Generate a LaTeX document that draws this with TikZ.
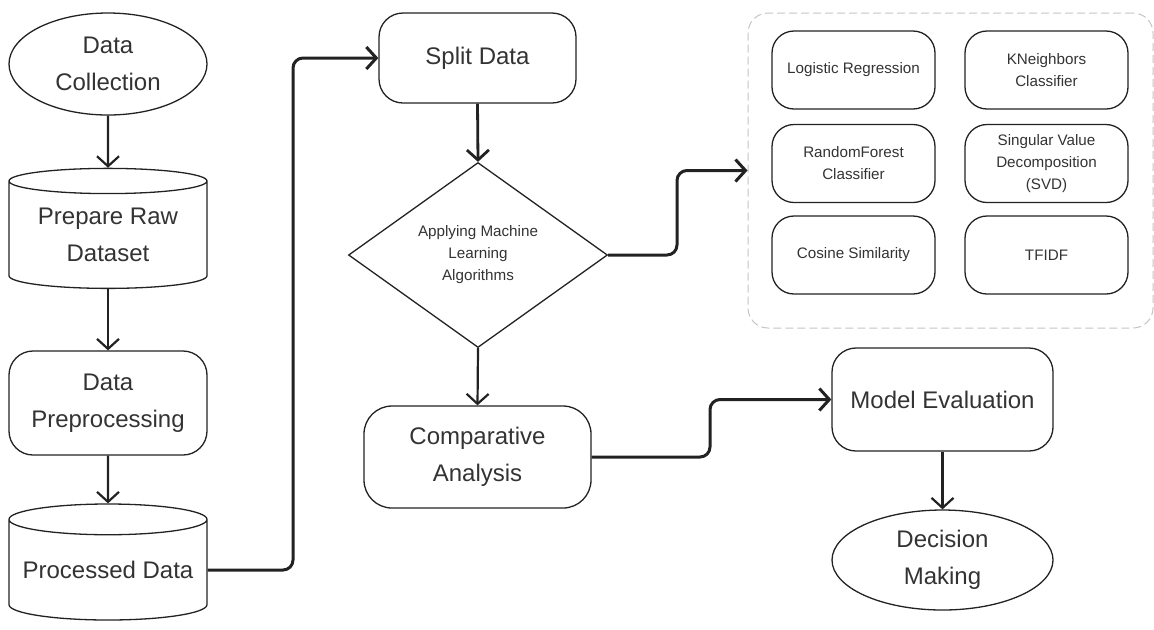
\documentclass[tikz,border=0pt]{standalone}
\usepackage{fontspec}
\setmainfont{Liberation Sans}
\usetikzlibrary{positioning}
\usetikzlibrary{shapes.geometric}
\usetikzlibrary{arrows.meta}
\definecolor{inkgray}{HTML}{333333}
\definecolor{linegray}{HTML}{222222}
\definecolor{dashgray}{HTML}{C4C4C4}

\begin{document}
\begin{tikzpicture}[x = 0.5pt, y = -0.5pt,
	box/.style = {draw = linegray, line width = 0.65pt, text = inkgray, align = center, inner sep = 0pt, font = \fontsize{12}{18.5}\selectfont},
	roundbox/.style = {box, rectangle, rounded corners = 12pt},
	oval/.style = {box, ellipse},
	drum/.style = {box, cylinder, shape border rotate = 90, aspect = 0.18},
	algo/.style = {box, rectangle, rounded corners = 11pt, minimum width = 81.5pt, minimum height = 39pt, font = \fontsize{7.6}{11}\selectfont},
	link/.style = {draw = linegray, line width = 1.1pt, -{Straight Barb[length = 5pt, width = 11pt]}},
	route/.style = {link, line width = 1.5pt, rounded corners = 5pt}]
	\useasboundingbox (0, 0) rectangle (1154, 629);
	\node [oval, minimum width = 99pt, minimum height = 51pt] (collect) at (108, 64) {Data\\Collection};
	\node [drum, minimum width = 99pt, minimum height = 60pt] (raw) at (108, 235) {Prepare Raw\\Dataset};
	\node [roundbox, minimum width = 99pt, minimum height = 52pt] (prep) at (108, 403) {Data\\Preprocessing};
	\node [drum, minimum width = 99pt, minimum height = 58pt] (processed) at (108, 570) {Processed Data};
	\node [roundbox, minimum width = 98.5pt, minimum height = 45pt] (split) at (477.5, 58) {Split Data};
	\node [box, diamond, minimum width = 129.5pt, minimum height = 92.5pt, font = \fontsize{7.6}{11}\selectfont] (apply) at (478, 255) {Applying Machine\\Learning\\Algorithms};
	\node [roundbox, rounded corners = 14pt, minimum width = 113.5pt, minimum height = 51pt] (compare) at (477.5, 457) {Comparative\\Analysis};
	\node [roundbox, minimum width = 110.5pt, minimum height = 51.5pt] (evaluate) at (942.5, 399.5) {Model Evaluation};
	\node [oval, minimum width = 110.5pt, minimum height = 50pt] (decide) at (942.5, 560) {Decision\\Making};
	\node [draw = dashgray, line width = 0.5pt, dash pattern = on 4pt off 2pt, rounded corners = 10pt, minimum width = 202.5pt, minimum height = 157.5pt] (models) at (950.5, 170.5) {};
	\node [algo] (logreg) at (853.5, 70) {Logistic Regression};
	\node [algo] (knn) at (1046.5, 70) {KNeighbors\\Classifier};
	\node [algo] (forest) at (853.5, 163.5) {RandomForest\\Classifier};
	\node [algo] (svd) at (1046.5, 163.5) {Singular Value\\Decomposition\\(SVD)};
	\node [algo] (cosine) at (853.5, 255) {Cosine Similarity};
	\node [algo] (tfidf) at (1046.5, 255) {TFIDF};
	\coordinate (riser) at (293, 0);
	\coordinate (fork) at (677, 0);
	\coordinate (jog) at (710, 0);
	\draw [link] (collect.south) -- (raw.north);
	\draw [link] (raw.south) -- (prep.north);
	\draw [link] (prep.south) -- (processed.north);
	\draw [route] (processed.east) -- (processed.east -| riser) |- (split.west);
	\draw [link, line width = 1.4pt] (split.south) -- (apply.north);
	\draw [route] (apply.east) -- (apply.east -| fork) |- (models.west);
	\draw [link] (apply.south) -- (compare.north);
	\draw [route] (compare.east) -- (compare.east -| jog) |- (evaluate.west);
	\draw [link] (evaluate.south) -- (decide.north);
\end{tikzpicture}
\end{document}
